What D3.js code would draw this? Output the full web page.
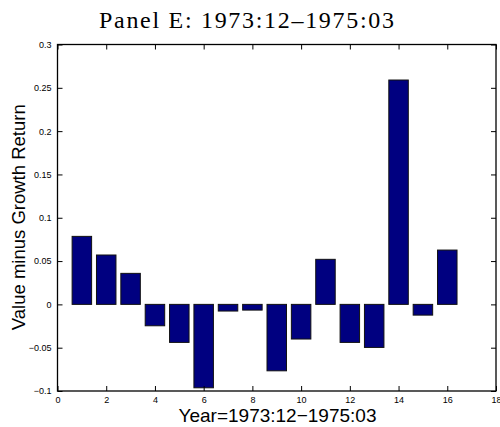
<!DOCTYPE html>
<html>
<head>
<meta charset="utf-8">
<script src="https://cdn.jsdelivr.net/npm/d3@7"></script>
<style>
  html, body { margin: 0; padding: 0; background: #fff; }
  svg { display: block; }
</style>
</head>
<body>
<svg id="chart" width="500" height="427"></svg>
<script>
// Period index (months since 1973:12) and the value-minus-growth return for each
const periods = [1, 2, 3, 4, 5, 6, 7, 8, 9, 10, 11, 12, 13, 14, 15, 16];
const returns = [0.0785, 0.057, 0.0358, -0.0247, -0.0439, -0.0963, -0.0077, -0.0066,
                 -0.0767, -0.040, 0.052, -0.0439, -0.0497, 0.259, -0.0124, 0.0627];
const xTicks = [0, 2, 4, 6, 8, 10, 12, 14, 16, 18];
const yTicks = [-0.1, -0.05, 0, 0.05, 0.1, 0.15, 0.2, 0.25, 0.3];

const titleText = "Panel E: 1973:12\u20131975:03";
const xLabelText = "Year=1973:12\u22121975:03";
const yLabelText = "Value minus Growth Return";

const svg = d3.select("#chart");
const plotLeft = 57.5, plotRight = 496, plotTop = 44.5, plotBottom = 391;

const x = d3.scaleLinear().domain([0, 18]).range([plotLeft, plotRight]);
const y = d3.scaleLinear().domain([-0.1, 0.3]).range([plotBottom, plotTop]);
const barWidth = 0.8;

const fmt = v => {
  if (v === 0) return "0";
  const s = String(+v.toFixed(2));
  return s.replace("-", "\u2212");
};

// Bars
svg.append("g")
  .selectAll("rect")
  .data(periods)
  .join("rect")
  .attr("x", (d) => x(d - barWidth / 2))
  .attr("width", x(barWidth) - x(0))
  .attr("y", (d, i) => y(Math.max(0, returns[i])))
  .attr("height", (d, i) => Math.abs(y(returns[i]) - y(0)))
  .attr("fill", "#000080")
  .attr("stroke", "#111")
  .attr("stroke-width", 1);

// Axes with inward ticks on all four sides
const tickLen = 5;
const axisFont = "Liberation Sans, Arial, Helvetica, sans-serif";

const bottomAxis = d3.axisBottom(x).tickValues(xTicks).tickSizeInner(-tickLen).tickSizeOuter(0).tickPadding(6).tickFormat(d3.format("d"));
const topAxis = d3.axisTop(x).tickValues(xTicks).tickSizeInner(-tickLen).tickSizeOuter(0).tickFormat("");
const leftAxis = d3.axisLeft(y).tickValues(yTicks).tickSizeInner(-tickLen).tickSizeOuter(0).tickPadding(6).tickFormat(fmt);
const rightAxis = d3.axisRight(y).tickValues(yTicks).tickSizeInner(-tickLen).tickSizeOuter(0).tickFormat("");

function styleAxis(g) {
  g.select(".domain").remove();
  g.selectAll(".tick line").attr("stroke", "#000").attr("stroke-width", 1);
  g.selectAll(".tick text").attr("fill", "#000").style("font-family", axisFont).style("font-size", "9px");
}

svg.append("g").attr("transform", `translate(0,${plotBottom})`).call(bottomAxis).call(styleAxis);
svg.append("g").attr("transform", `translate(0,${plotTop})`).call(topAxis).call(styleAxis);
svg.append("g").attr("transform", `translate(${plotLeft},0)`).call(leftAxis).call(styleAxis);
svg.append("g").attr("transform", `translate(${plotRight},0)`).call(rightAxis).call(styleAxis);

// Box around plot area
svg.append("rect")
  .attr("x", plotLeft).attr("y", plotTop)
  .attr("width", plotRight - plotLeft).attr("height", plotBottom - plotTop)
  .attr("fill", "none").attr("stroke", "#000").attr("stroke-width", 1.3);

// Title
svg.append("text")
  .attr("x", 246.5).attr("y", 28)
  .attr("text-anchor", "middle")
  .attr("textLength", 295).attr("lengthAdjust", "spacing")
  .style("font-family", "Liberation Serif, Times New Roman, serif")
  .style("font-size", "24px")
  .attr("fill", "#000")
  .text(titleText);

// X label
svg.append("text")
  .attr("x", 277.5).attr("y", 421.5)
  .attr("text-anchor", "middle")
  .style("font-family", axisFont)
  .style("font-size", "19px")
  .attr("fill", "#000")
  .text(xLabelText);

// Y label
svg.append("text")
  .attr("transform", `translate(24.5,${(plotTop + plotBottom) / 2 - 0.5}) rotate(-90)`)
  .attr("text-anchor", "middle")
  .style("font-family", axisFont)
  .style("font-size", "18.5px")
  .attr("fill", "#000")
  .text(yLabelText);
</script>
</body>
</html>
